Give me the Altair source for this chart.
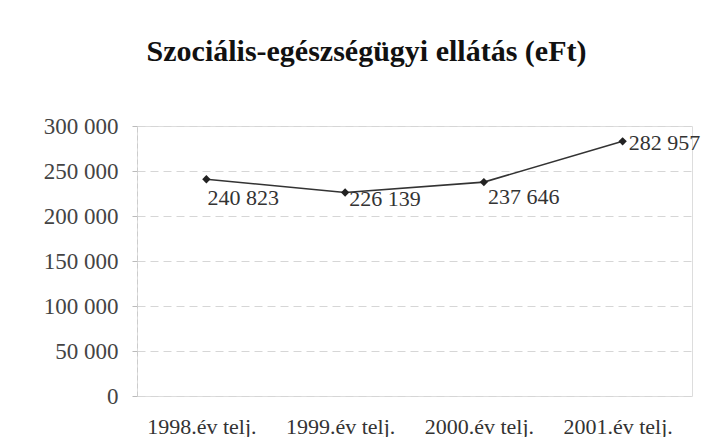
import altair as alt
import pandas as pd

categories = ["1998.év telj.", "1999.év telj.", "2000.év telj.", "2001.év telj."]
values = [240823, 226139, 237646, 282957]
labels = ["240 823", "226 139", "237 646", "282 957"]

df = pd.DataFrame({"cat": categories, "val": values, "lab": labels})

FONT = "Liberation Serif"

x = alt.X("cat:N", sort=categories, title=None,
          scale=alt.Scale(paddingInner=0, paddingOuter=0),
          axis=alt.Axis(labelAngle=0, labelFontSize=22, labelFont=FONT,
                        labelColor="#333", labelPadding=20, labelOffset=-5,
                        ticks=False, domain=False, grid=False))
y = alt.Y("val:Q", title=None,
          scale=alt.Scale(domain=[0, 300000], nice=False),
          axis=alt.Axis(values=[0, 50000, 100000, 150000, 200000, 250000, 300000],
                        labelExpr="replace(format(datum.value, ','), ',', ' ')",
                        labelFontSize=23, labelFont=FONT, labelColor="#444",
                        labelPadding=14, tickSize=5, tickColor="#bbb",
                        domainColor="#ccc", domainDash=[5, 3],
                        gridColor="#d6d6d6", gridDash=[8, 5], gridWidth=1))

base = alt.Chart(df)
line = base.mark_line(color="#333", strokeWidth=1.6).encode(x=x, y=y)
pts = base.mark_point(shape="diamond", filled=True, color="#222", size=70, opacity=1).encode(x=x, y=y)

offsets = [(1, 19), (4, 7), (4, 15), (6, 2)]
texts = []
for c, (dx, dy) in zip(categories, offsets):
    texts.append(
        base.transform_filter(alt.datum.cat == c)
        .mark_text(align="left", baseline="middle", dx=dx, dy=dy,
                   font=FONT, fontSize=22, color="#333")
        .encode(x=x, y=y, text="lab:N")
    )

chart = alt.layer(line, pts, *texts).properties(
    width=555, height=270,
    title=alt.TitleParams("Szociális-egészségügyi ellátás (eFt)", font=FONT,
                          fontSize=30, fontWeight="bold", color="#111",
                          anchor="middle", dx=-48, offset=48),
    padding={"left": 129, "top": 118, "right": 9, "bottom": 41},
    autosize=alt.AutoSizeParams(type="none"),
).configure_view(stroke=None).configure(background="white")

chart.save("out.html", embed_options={"renderer": "svg", "actions": False})
